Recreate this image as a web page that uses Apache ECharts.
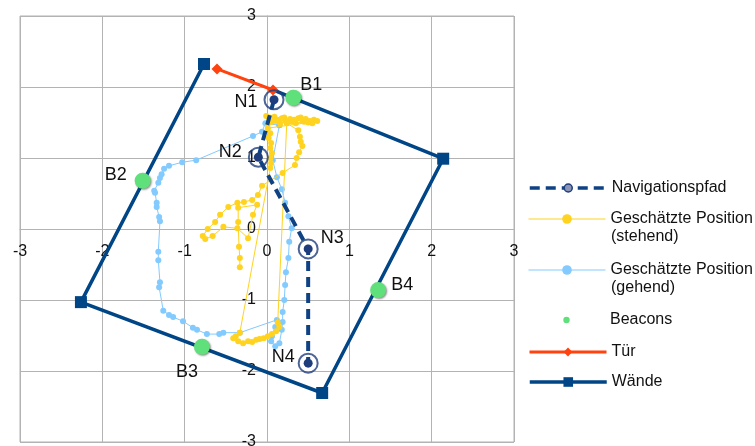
<!DOCTYPE html>
<html>
<head>
<meta charset="utf-8">
<script src="https://cdn.jsdelivr.net/npm/echarts@6/dist/echarts.min.js"></script>
<style>
html,body{margin:0;padding:0;background:#fff}
#chart{width:755px;height:446px}
</style>
</head>
<body>
<div id="chart"></div>
<script>
// Room layout, beacons, planned path and estimated positions (metres)
const axisMin = -3;
const axisMax = 3;
const axisStep = 1;

const navNames = ['N1', 'N2', 'N3', 'N4'];
const navPath = [[0.085, 1.82], [-0.105, 1.01], [0.5, -0.28], [0.5, -1.89]];

const beaconNames = ['B1', 'B2', 'B3', 'B4'];
const beacons = [[0.32, 1.85], [-1.51, 0.68], [-0.79, -1.66], [1.35, -0.86]];

const door = [[-0.607, 2.254], [0.073, 1.958]];
const walls = [[0.073, 1.958], [2.14, 0.99], [0.67, -2.31], [-2.26, -1.03], [-0.765, 2.324]];

const standing = [
  [-0.01, 1.59], [0.04, 1.55], [0.09, 1.58], [0.13, 1.54], [0.18, 1.56], [0.23, 1.52],
  [0.28, 1.55], [0.33, 1.54], [0.38, 1.56], [0.43, 1.52], [0.47, 1.55], [0.52, 1.52],
  [0.57, 1.54], [0.61, 1.52], [0.55, 1.49], [0.45, 1.51], [0.35, 1.49], [0.26, 1.51],
  [0.16, 1.49], [0.06, 1.51], [0.01, 1.48], [0.03, 1.57], [0.11, 1.52], [0.21, 1.57],
  [0.31, 1.51], [0.41, 1.57], [0.50, 1.50],
  [0.01, 1.42], [0.04, 1.35], [0.02, 1.28], [0.05, 1.21], [0.04, 1.14], [0.06, 1.07],
  [0.04, 1.00], [0.05, 0.93], [0.04, 0.86],
  [-0.33, -1.46], [-0.38, -1.51], [-0.41, -1.54], [-0.35, -1.58], [-0.29, -1.61],
  [-0.23, -1.58], [-0.18, -1.59], [-0.13, -1.56], [-0.09, -1.55], [-0.04, -1.54],
  [0.01, -1.51], [0.06, -1.48], [0.11, -1.44], [0.15, -1.38], [0.13, -1.32],
  [0.24, 1.49],
  [0.38, 1.39], [0.40, 1.30], [0.41, 1.23], [0.43, 1.17], [0.39, 1.08], [0.36, 1.00], [0.34, 0.90],
  [0.19, 0.79], [-0.06, 0.61], [-0.11, 0.48], [-0.18, 0.41], [-0.28, 0.38], [-0.36, 0.37],
  [-0.47, 0.31], [-0.57, 0.20], [-0.63, 0.10], [-0.72, 0.00], [-0.78, -0.10], [-0.75, -0.14],
  [-0.66, -0.10], [-0.53, 0.03], [-0.36, 0.01], [-0.23, -0.13], [-0.17, 0.20], [-0.12, 0.34],
  [-0.35, 0.30], [-0.35, 0.10], [-0.34, -0.25], [-0.33, -0.41], [-0.33, -0.54]
];

const walking = [
  [0.15, 1.46], [-0.02, 1.49], [-0.06, 1.37], [-0.17, 1.31], [-0.86, 0.97], [-1.03, 0.94],
  [-1.19, 0.89], [-1.25, 0.85], [-1.28, 0.77], [-1.30, 0.72], [-1.32, 0.65], [-1.37, 0.54],
  [-1.36, 0.51], [-1.34, 0.37], [-1.34, 0.31], [-1.31, 0.17], [-1.30, 0.11], [-1.32, -0.32],
  [-1.32, -0.44], [-1.30, -0.75], [-1.31, -0.82], [-1.26, -1.15], [-1.19, -1.21], [-1.14, -1.24],
  [-1.02, -1.30], [-0.90, -1.39], [-0.85, -1.42], [-0.73, -1.48], [-0.58, -1.48], [-0.53, -1.46],
  [-0.33, -1.46], [0.12, -1.28], [0.10, -1.38], [0.06, -1.51], [0.05, -1.58], [0.10, -1.65],
  [0.15, -1.61], [0.18, -1.42], [0.19, -1.31], [0.19, -1.17], [0.21, -1.00], [0.22, -0.79],
  [0.23, -0.61], [0.26, -0.41], [0.27, -0.18], [0.30, 0.01], [0.26, 0.18], [0.22, 0.37],
  [0.18, 0.56], [0.12, 0.73], [0.07, 0.97], [0.15, 1.46]
];

const seriesNames = {
  nav: 'Navigationspfad',
  standing: 'Geschätzte Position (stehend)',
  walking: 'Geschätzte Position (gehend)',
  beacons: 'Beacons',
  door: 'Tür',
  walls: 'Wände'
};

// label placement around the marked points (pixels)
const navLabelOffset = [[-28, 2], [-28, -5], [24, -11], [-25, -6]];
const beaconLabelOffset = [[18, -13], [-27, -6], [-15, 25], [24, -5]];

const FONT = 'Liberation Sans, Arial, sans-serif';
const C = {
  walls: '#004586', door: '#ff420e', standing: '#ffd320', walking: '#83caff',
  beacon: '#5fe07a', nav: '#0f4283', navMark: '#1f3d7c', grid: '#b3b3b3', text: '#111'
};

// plot rectangle in pixels
const G = { left: 20, top: 16, width: 494, height: 426 };

const chart = echarts.init(document.getElementById('chart'), null, { renderer: 'canvas' });

function axis(pos, offset, labelMargin) {
  return {
    type: 'value', min: axisMin, max: axisMax, interval: axisStep,
    position: pos, offset: offset,
    axisLine: { show: true, onZero: false, lineStyle: { color: C.grid, width: 1 } },
    axisTick: { show: false },
    splitLine: { show: true, lineStyle: { color: C.grid, width: 1 } },
    axisLabel: { margin: labelMargin, fontSize: 16, color: C.text, fontFamily: FONT }
  };
}

const legendText = { fontSize: 16, color: C.text, fontFamily: FONT };

function legendAt(name, top, opts) {
  return Object.assign({
    data: [name], orient: 'vertical', left: 528, top: top, padding: 0,
    itemWidth: 77, itemHeight: 12, selectedMode: false,
    textStyle: legendText,
    // long names wrap onto a second line drawn below
    formatter: n => n.replace(/ \(.*\)$/, '')
  }, opts || {});
}

function secondLine(name, y) {
  return {
    type: 'text', left: 611, top: y - 9,
    style: { text: name.match(/\(.*\)$/)[0], font: '16px ' + FONT, fill: C.text }
  };
}

const innerW = G.width, innerH = G.height;
const zeroX = (0 - axisMin) / (axisMax - axisMin) * innerW;
const zeroY = (axisMax - 0) / (axisMax - axisMin) * innerH;

const option = {
  animation: false,
  backgroundColor: '#fff',
  grid: {
    left: G.left, top: G.top, width: G.width, height: G.height,
    containLabel: false, outerBoundsMode: 'none',
    show: true, borderColor: C.grid, borderWidth: 1
  },
  xAxis: axis('bottom', -(innerH - zeroY), 15),
  yAxis: axis('left', -zeroX, 11),
  legend: [
    legendAt(seriesNames.nav, 180, {
      itemHeight: 10, lineStyle: { width: 3.5 },
      itemStyle: { color: '#8a95b8', borderColor: C.navMark, borderWidth: 1.5 }
    }),
    legendAt(seriesNames.standing, 211, { lineStyle: { width: 1 } }),
    legendAt(seriesNames.walking, 262, { lineStyle: { width: 1 } }),
    legendAt(seriesNames.beacons, 312, { itemHeight: 8, lineStyle: { width: 0, opacity: 0 } }),
    legendAt(seriesNames.door, 344, { itemHeight: 11, lineStyle: { width: 3 } }),
    legendAt(seriesNames.walls, 374, { itemHeight: 12, lineStyle: { width: 3.5 } })
  ],
  graphic: [
    secondLine(seriesNames.standing, 238),
    secondLine(seriesNames.walking, 289)
  ],
  series: [
    {
      name: seriesNames.walls, type: 'line', z: 1,
      data: walls.map((p, i) => i === 0 ? { value: p, symbol: 'none' } : p),
      symbol: 'rect', symbolSize: 12,
      lineStyle: { color: C.walls, width: 3.5 },
      itemStyle: { color: C.walls }
    },
    {
      name: seriesNames.door, type: 'line', z: 2,
      data: door, symbol: 'diamond', symbolSize: 11,
      lineStyle: { color: C.door, width: 3 },
      itemStyle: { color: C.door }
    },
    {
      name: seriesNames.walking, type: 'line', z: 3,
      data: walking, symbol: 'circle', symbolSize: 6,
      lineStyle: { color: C.walking, width: 1 },
      itemStyle: { color: C.walking }
    },
    {
      name: seriesNames.standing, type: 'line', z: 4,
      data: standing, symbol: 'circle', symbolSize: 6,
      lineStyle: { color: C.standing, width: 1 },
      itemStyle: { color: C.standing }
    },
    {
      name: seriesNames.nav, type: 'line', z: 5,
      data: navPath.map((p, i) => ({
        value: p, name: navNames[i],
        label: { show: true, position: 'inside', offset: navLabelOffset[i], formatter: '{b}' }
      })),
      symbol: 'circle', symbolSize: 9,
      lineStyle: { color: C.nav, width: 4, type: [10, 6] },
      itemStyle: { color: C.navMark },
      label: { fontSize: 18, color: C.text, fontFamily: FONT, textBorderWidth: 0 }
    },
    {
      name: 'ring', type: 'scatter', z: 6,
      data: navPath, symbol: 'circle', symbolSize: 19,
      itemStyle: { color: 'rgba(255,255,255,0)', borderColor: C.navMark, borderWidth: 2 },
      silent: true
    },
    {
      // beacons are points only, no connecting line
      name: seriesNames.beacons, type: 'line', z: 7,
      data: beacons.map((p, i) => ({
        value: p, name: beaconNames[i],
        label: { show: true, position: 'inside', offset: beaconLabelOffset[i], formatter: '{b}' }
      })),
      symbol: 'circle', symbolSize: 16,
      lineStyle: { width: 0, opacity: 0 },
      itemStyle: { color: C.beacon, shadowBlur: 2, shadowColor: 'rgba(0,0,0,0.45)', shadowOffsetX: 1, shadowOffsetY: 1 },
      label: { fontSize: 18, color: C.text, fontFamily: FONT, textBorderWidth: 0 }
    }
  ]
};

chart.setOption(option);
</script>
</body>
</html>
